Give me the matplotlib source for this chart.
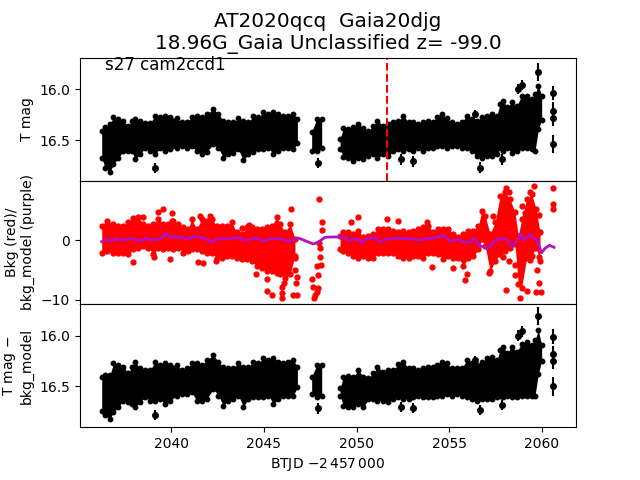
#!/usr/bin/python

import numpy as np
import matplotlib
matplotlib.use("Agg")
import matplotlib.pyplot as plt

time_a = [2036.26, 2036.44, 2036.71, 2036.89, 2037.16, 2037.43, 2037.70, 2037.88, 2038.06, 2038.33, 2038.60, 2038.87, 2039.14, 2039.41, 2039.68, 2039.95, 2040.31, 2040.58, 2040.84, 2041.11, 2041.38, 2041.65, 2041.92, 2042.28, 2042.55, 2042.82, 2043.09, 2043.36, 2043.63, 2043.90, 2044.17, 2044.44, 2044.71, 2044.98, 2045.25, 2045.52, 2045.79, 2046.06, 2046.33, 2046.59, 2046.81]
tmag_bright_a = [16.386, 16.353, 16.320, 16.255, 16.271, 16.288, 16.343, 16.288, 16.271, 16.288, 16.310, 16.310, 16.239, 16.255, 16.239, 16.255, 16.265, 16.304, 16.304, 16.255, 16.239, 16.255, 16.222, 16.173, 16.222, 16.288, 16.297, 16.304, 16.265, 16.288, 16.304, 16.239, 16.255, 16.206, 16.222, 16.206, 16.222, 16.239, 16.239, 16.222, 16.271]
tmag_faint_a = [16.696, 16.794, 16.833, 16.761, 16.696, 16.631, 16.631, 16.631, 16.712, 16.663, 16.598, 16.631, 16.663, 16.598, 16.631, 16.614, 16.598, 16.582, 16.598, 16.582, 16.631, 16.663, 16.637, 16.565, 16.598, 16.696, 16.663, 16.647, 16.614, 16.722, 16.657, 16.637, 16.614, 16.614, 16.598, 16.663, 16.631, 16.598, 16.598, 16.614, 16.549]
sub_bright_a = [16.382, 16.366, 16.366, 16.252, 16.268, 16.284, 16.350, 16.284, 16.235, 16.301, 16.317, 16.317, 16.235, 16.268, 16.252, 16.268, 16.268, 16.317, 16.301, 16.252, 16.252, 16.268, 16.219, 16.170, 16.235, 16.284, 16.301, 16.294, 16.252, 16.284, 16.284, 16.235, 16.252, 16.196, 16.219, 16.196, 16.235, 16.252, 16.235, 16.219, 16.284]
sub_faint_a = [16.758, 16.807, 16.840, 16.775, 16.725, 16.660, 16.676, 16.693, 16.725, 16.676, 16.627, 16.660, 16.660, 16.644, 16.693, 16.660, 16.611, 16.595, 16.595, 16.578, 16.660, 16.660, 16.644, 16.546, 16.611, 16.709, 16.660, 16.644, 16.611, 16.719, 16.644, 16.627, 16.627, 16.627, 16.611, 16.693, 16.644, 16.611, 16.611, 16.611, 16.529]

time_b = [2047.58, 2047.85, 2048.12]
tmag_bright_b = [16.399, 16.271, 16.271]
tmag_faint_b = [16.631, 16.631, 16.598]
sub_bright_b = [16.382, 16.268, 16.268]
sub_faint_b = [16.595, 16.627, 16.611]

time_c = [2049.11, 2049.29, 2049.56, 2049.83, 2050.10, 2050.37, 2050.64, 2050.91, 2051.12, 2051.45, 2051.72, 2051.99, 2052.26, 2052.53, 2052.80, 2053.06, 2053.33, 2053.60, 2053.87, 2054.14, 2054.32, 2054.59, 2054.86, 2055.13, 2055.40, 2055.67, 2055.94, 2056.21, 2056.48, 2056.75, 2057.02, 2057.29, 2057.56, 2057.74, 2057.92, 2058.10, 2058.37, 2058.64, 2058.90, 2059.17, 2059.44, 2059.62, 2059.80, 2059.98]
tmag_bright_c = [16.467, 16.363, 16.369, 16.353, 16.320, 16.363, 16.386, 16.337, 16.288, 16.337, 16.320, 16.304, 16.288, 16.239, 16.304, 16.304, 16.320, 16.304, 16.288, 16.297, 16.255, 16.222, 16.265, 16.304, 16.320, 16.304, 16.239, 16.271, 16.288, 16.255, 16.239, 16.222, 16.239, 16.124, 16.092, 16.157, 16.108, 16.141, 16.042, 16.042, 16.075, 16.026, 15.944, 16.042]
tmag_faint_c = [16.614, 16.690, 16.696, 16.729, 16.696, 16.712, 16.680, 16.663, 16.696, 16.663, 16.680, 16.631, 16.614, 16.631, 16.614, 16.631, 16.598, 16.631, 16.598, 16.598, 16.582, 16.582, 16.598, 16.582, 16.582, 16.598, 16.598, 16.631, 16.680, 16.696, 16.680, 16.680, 16.663, 16.598, 16.631, 16.598, 16.647, 16.631, 16.598, 16.598, 16.614, 16.631, 16.418, 16.320]
sub_bright_c = [16.497, 16.382, 16.373, 16.382, 16.317, 16.382, 16.392, 16.350, 16.284, 16.333, 16.317, 16.317, 16.255, 16.235, 16.301, 16.301, 16.317, 16.301, 16.284, 16.284, 16.268, 16.235, 16.252, 16.301, 16.301, 16.301, 16.219, 16.252, 16.268, 16.235, 16.203, 16.186, 16.219, 16.121, 16.088, 16.154, 16.088, 16.137, 16.056, 16.039, 16.072, 16.023, 15.925, 16.072]
sub_faint_c = [16.611, 16.709, 16.722, 16.725, 16.693, 16.725, 16.647, 16.647, 16.663, 16.660, 16.676, 16.644, 16.627, 16.644, 16.644, 16.627, 16.611, 16.627, 16.627, 16.627, 16.611, 16.611, 16.595, 16.611, 16.595, 16.611, 16.627, 16.644, 16.660, 16.644, 16.644, 16.644, 16.627, 16.611, 16.627, 16.611, 16.627, 16.627, 16.611, 16.611, 16.611, 16.611, 16.399, 16.268]

# separate points with their error bars
out_time = [2039.16, 2047.92, 2052.42, 2053.02, 2056.68, 2057.86, 2056.41, 2058.73, 2058.94, 2059.76, 2060.61, 2060.61, 2060.61, 2060.61]
out_tmag = [16.771, 16.722, 16.69, 16.71, 16.77, 16.69, 16.24, 16.00, 15.96, 15.83, 16.04, 16.21, 16.28, 16.54]
out_sub = [16.78, 16.716, 16.70, 16.71, 16.73, 16.68, 16.24, 16.00, 15.96, 15.81, 16.01, 16.18, 16.25, 16.50]
out_err = [0.05, 0.05, 0.05, 0.05, 0.05, 0.05, 0.04, 0.05, 0.05, 0.09, 0.07, 0.08, 0.08, 0.09]

# background band
bkg_time_a = [2036.26, 2036.53, 2036.89, 2037.16, 2037.43, 2037.70, 2037.97, 2038.24, 2038.51, 2038.78, 2039.05, 2039.32, 2039.59, 2039.86, 2040.13, 2040.40, 2040.66, 2040.93, 2041.11, 2041.38, 2041.65, 2041.92, 2042.19, 2042.46, 2042.73, 2043.00, 2043.27, 2043.54, 2043.81, 2044.08, 2044.35, 2044.62, 2044.89, 2045.16, 2045.43, 2045.70, 2045.88, 2046.15, 2046.42, 2046.68]
bkg_top_a = [2.78, 3.61, 3.06, 2.78, 2.78, 3.33, 4.0, 4.17, 3.06, 2.78, 3.06, 3.89, 3.06, 3.06, 3.61, 3.06, 2.5, 2.22, 3.89, 2.22, 3.89, 3.61, 3.89, 2.78, 2.78, 2.78, 3.33, 1.67, 1.39, 2.5, 2.5, 2.22, 2.22, 2.5, 2.78, 4.17, 3.06, 1.67, 3.06, 0.56]
bkg_low_a = [-2.5, -2.22, -2.5, -2.5, -2.5, -2.78, -1.94, -1.67, -1.39, -1.67, -2.78, -1.67, -1.94, -1.67, -1.94, -1.67, -2.5, -2.22, -1.94, -1.94, -2.22, -2.5, -2.5, -3.33, -3.33, -3.06, -3.06, -3.33, -3.61, -3.61, -3.89, -4.72, -5.0, -5.56, -5.56, -5.83, -6.11, -6.67, -6.11, -3.0]

bkg_time_c = [2049.11, 2049.29, 2049.56, 2049.83, 2050.10, 2050.37, 2050.64, 2050.91, 2051.18, 2051.45, 2051.72, 2051.99, 2052.26, 2052.53, 2052.80, 2053.06, 2053.33, 2053.60, 2053.87, 2054.14, 2054.41, 2054.68, 2054.95, 2055.22, 2055.49, 2055.76, 2056.03, 2056.30, 2056.57, 2056.75, 2056.93, 2057.20, 2057.47, 2057.74, 2058.01, 2058.27, 2058.54, 2058.72, 2058.90, 2059.17, 2059.44, 2059.68, 2059.89]
bkg_top_c = [1.11, 1.67, 1.67, 1.39, 1.94, 0.83, 1.11, 1.39, 2.22, 2.22, 2.22, 1.94, 1.67, 1.94, 1.67, 1.94, 2.22, 2.5, 2.78, 1.67, 2.22, 2.22, 2.22, 1.39, 0.83, 1.39, 1.94, 1.94, 2.78, 5.28, 4.44, 1.39, 3.33, 7.78, 8.33, 7.22, 5.0, 1.11, 3.89, 7.22, 8.06, 5.56, 1.67]
bkg_low_c = [-1.94, -2.22, -2.5, -3.06, -3.33, -3.06, -3.33, -3.33, -2.5, -2.5, -2.5, -2.5, -3.06, -3.33, -3.33, -3.06, -3.06, -3.33, -2.5, -2.5, -2.78, -3.61, -3.06, -3.33, -3.33, -4.72, -3.33, -3.06, -1.94, -0.28, -1.39, -5.56, -3.89, -2.78, -2.22, -1.67, -1.11, -7.78, -8.33, -3.33, -3.06, -1.67, -3.89]

# background points that stand apart from the band
bkg_pt_time = [2037.97, 2039.10, 2039.96, 2041.47, 2041.74, 2042.43, 2044.58, 2045.19, 2045.19, 2045.46, 2045.97, 2045.97, 2045.97, 2046.09, 2046.59, 2046.77, 2046.68, 2046.77, 2046.68, 2046.74, 2047.62, 2047.67, 2047.76, 2047.73, 2047.85, 2047.94, 2047.94, 2047.89, 2048.07, 2048.03, 2048.03, 2048.00, 2048.12, 2048.12, 2048.00, 2046.45, 2039.59, 2039.32, 2040.07, 2040.07, 2038.51, 2041.56, 2042.10, 2043.85, 2044.22, 2049.69, 2050.10, 2051.66, 2052.26, 2053.78, 2054.05, 2055.22, 2055.87, 2055.98, 2057.16, 2057.33, 2058.04, 2058.24, 2057.92, 2058.24, 2058.08, 2058.83, 2059.17, 2059.66, 2059.97, 2059.84, 2059.59, 2060.61, 2060.61, 2060.61, 2059.35, 2058.90, 2059.09, 2059.86, 2059.86, 2059.82, 2059.73, 2058.54, 2058.54, 2059.35]
bkg_pt_val = [-3.72, -2.89, -3.22, -3.72, -3.89, -3.5, -5.72, -6.5, -8.5, -9.22, -7.78, -8.89, -9.72, -7.22, -9.17, -9.17, -5.0, -6.11, -3.06, -7.22, -6.5, -7.78, -9.17, -9.72, -8.61, -8.06, -5.83, -4.33, -4.17, -2.78, -1.39, -0.56, 1.67, 3.06, 6.78, 5.11, 5.11, 4.61, 4.44, 3.2, 3.78, 4.0, 4.0, 2.06, 2.5, 3.06, 3.78, 3.44, 3.11, 2.94, -4.56, -4.72, -6.67, -5.72, -5.44, 4.0, 8.61, 7.94, -2.89, -3.5, -8.39, -9.72, -8.56, -8.72, -8.72, -7.22, 9.0, 8.61, 6.0, 5.11, 8.06, 5.67, 4.44, 4.17, 1.39, -2.78, -5.0, -4.17, -5.83, -3.33]

# smooth background model (purple)
model_time = [2036.26, 2036.53, 2036.80, 2037.07, 2037.34, 2037.61, 2037.88, 2038.15, 2038.42, 2038.60, 2038.87, 2039.14, 2039.41, 2039.73, 2039.95, 2040.22, 2040.49, 2040.84, 2041.29, 2041.83, 2042.19, 2042.46, 2043.00, 2043.63, 2043.90, 2044.17, 2044.44, 2044.71, 2044.94, 2045.25, 2045.88, 2046.24, 2046.59, 2046.86, 2047.31, 2047.67, 2047.94, 2048.30, 2048.57, 2049.38, 2049.56, 2049.83, 2050.10, 2050.28, 2050.55, 2051.00, 2051.27, 2051.54, 2052.17, 2052.88, 2053.42, 2053.78, 2054.32, 2054.68, 2055.04, 2055.40, 2055.76, 2056.12, 2056.33, 2056.66, 2057.11, 2057.47, 2058.01, 2058.42, 2058.85, 2059.03, 2059.35, 2059.71, 2059.98, 2060.16, 2060.40, 2060.65]
model_val = [-0.28, 0.11, -0.17, 0.28, -0.06, 0.11, 0.22, 0.0, -0.11, 0.33, 0.0, 0.11, 0.11, 1.11, 0.44, 0.56, 0.5, 0.11, 0.67, 0.22, -0.33, 0.17, 0.17, 0.44, 0.0, 0.0, 0.33, 0.22, -0.22, 0.17, 0.22, -0.11, -0.11, 0.33, -0.22, -0.67, -0.33, 0.44, 0.5, 0.5, -0.11, 0.17, 0.11, -0.44, 0.28, 0.44, -0.33, 0.11, 0.28, 0.22, 0.0, 0.22, 0.44, 0.78, -0.22, 0.11, -0.33, -0.44, 0.33, -1.0, -1.33, 0.0, 0.28, -1.11, 1.0, 0.0, 0.83, 0.0, -2.11, -1.39, -0.89, -1.22]

flare_time = 2051.66


def band(ax, t, upper, lower, color, inset, size):
    # edges were read at the outer rim of the dots, so centre the dots inside
    upper = np.array(upper) - inset
    lower = np.array(lower) + inset
    ax.fill_between(t, upper, lower, color=color, lw=0)
    ax.plot(t, upper, "o", color=color, ms=size, ls="none")
    ax.plot(t, lower, "o", color=color, ms=size, ls="none")


fig, axes = plt.subplots(3, 1, sharex=True, figsize=(6.4, 4.8))
fig.subplots_adjust(hspace=0)
ax1, ax2, ax3 = axes

# magnitudes are inverted, so "upper" is the faint edge here
band(ax1, time_a, tmag_faint_a, tmag_bright_a, "k", 0.022, 3.2)
band(ax1, time_b, tmag_faint_b, tmag_bright_b, "k", 0.022, 3.2)
band(ax1, time_c, tmag_faint_c, tmag_bright_c, "k", 0.022, 3.2)
ax1.errorbar(out_time, out_tmag, yerr=out_err, fmt="ko", ms=4)
ax1.axvline(flare_time, color="r", ls="--")
ax1.set_ylim(16.90, 15.69)
ax1.set_yticks([16.0, 16.5])
ax1.set_ylabel("T mag")
ax1.tick_params(axis="x", bottom=False)
ax1.text(2036.45, 15.81, "s27 cam2ccd1", fontsize=12)
ax1.set_title("AT2020qcq  Gaia20djg\n18.96G_Gaia Unclassified z= -99.0", fontsize=14.4)

band(ax2, bkg_time_a, bkg_top_a, bkg_low_a, "r", 0.4, 3.5)
band(ax2, bkg_time_c, bkg_top_c, bkg_low_c, "r", 0.4, 3.5)
ax2.plot(bkg_pt_time, bkg_pt_val, "ro", ms=3.5, ls="none")
ax2.plot(model_time, model_val, color="#b30fc4", lw=2)
ax2.set_ylim(-10.67, 9.87)
ax2.set_yticks([-10, 0])
ax2.set_ylabel("Bkg (red)/\nbkg_model (purple)")
ax2.tick_params(axis="x", bottom=False)

band(ax3, time_a, sub_faint_a, sub_bright_a, "k", 0.022, 3.2)
band(ax3, time_b, sub_faint_b, sub_bright_b, "k", 0.022, 3.2)
band(ax3, time_c, sub_faint_c, sub_bright_c, "k", 0.022, 3.2)
ax3.errorbar(out_time, out_sub, yerr=out_err, fmt="ko", ms=4)
ax3.set_ylim(16.90, 15.69)
ax3.set_yticks([16.0, 16.5])
ax3.set_ylabel("T mag $-$\nbkg_model")
ax3.set_xlabel(r"BTJD $-2\,457\,000$")

ax3.set_xlim(2035.09, 2061.83)
ax3.set_xticks([2040, 2045, 2050, 2055, 2060])

fig.savefig("out.png", dpi=100)
